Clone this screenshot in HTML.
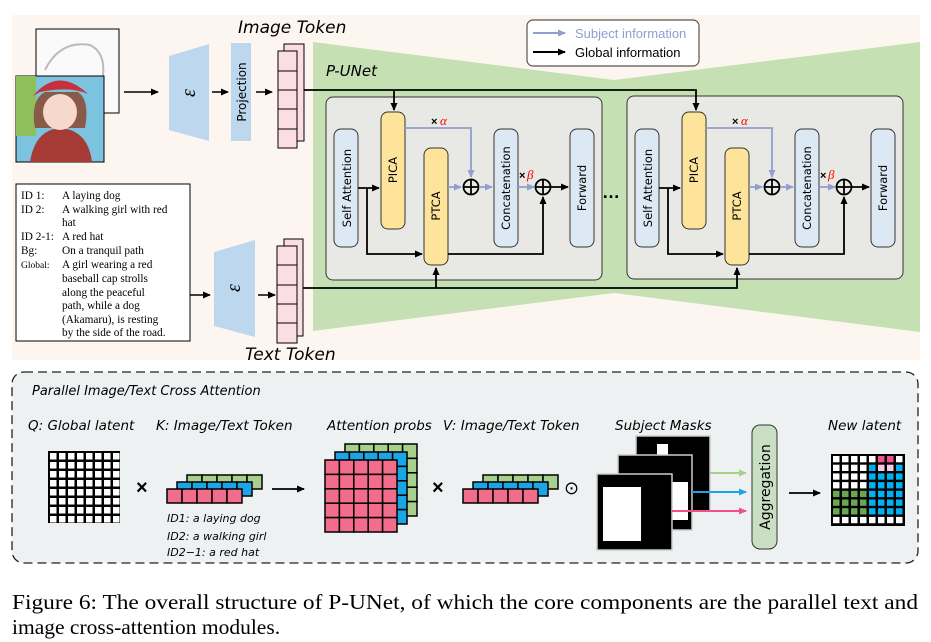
<!DOCTYPE html>
<html><head><meta charset="utf-8"><style>
html,body{margin:0;padding:0;background:#fff;}
svg{display:block;}
.s{font-family:"Liberation Sans","DejaVu Sans",sans-serif;}
.c{font-family:"DejaVu Sans","Liberation Sans",sans-serif;}
.r{font-family:"Liberation Serif",serif;}
</style></head><body>
<svg width="931" height="642" viewBox="0 0 931 642" xmlns="http://www.w3.org/2000/svg">
<defs>
<marker id="ak" markerWidth="8" markerHeight="8" refX="7" refY="4" orient="auto" markerUnits="userSpaceOnUse"><path d="M0,0.5 L8,4 L0,7.5 Z" fill="#000"/></marker>
<marker id="ab" markerWidth="8" markerHeight="8" refX="7" refY="4" orient="auto" markerUnits="userSpaceOnUse"><path d="M0,0.5 L8,4 L0,7.5 Z" fill="#8f9fcf"/></marker>
<marker id="ag" markerWidth="8" markerHeight="8" refX="7" refY="4" orient="auto" markerUnits="userSpaceOnUse"><path d="M0,0.5 L8,4 L0,7.5 Z" fill="#a8d08d"/></marker>
<marker id="ac" markerWidth="8" markerHeight="8" refX="7" refY="4" orient="auto" markerUnits="userSpaceOnUse"><path d="M0,0.5 L8,4 L0,7.5 Z" fill="#1aa6e6"/></marker>
<marker id="ap" markerWidth="8" markerHeight="8" refX="7" refY="4" orient="auto" markerUnits="userSpaceOnUse"><path d="M0,0.5 L8,4 L0,7.5 Z" fill="#f24d8c"/></marker>
</defs>
<rect x="12" y="15" width="908" height="345" fill="#fdf6f0"/>
<polygon points="313,42 614,80 920,42 920,332 614,293 313,331" fill="#c5e0b3"/>
<rect x="527" y="20" width="172" height="46" rx="6" fill="#fff" stroke="#555" stroke-width="1.2"/>
<line x1="533" y1="33" x2="565" y2="33" stroke="#8f9fcf" stroke-width="2" marker-end="url(#ab)"/>
<text x="575" y="38" class="s" font-size="13" fill="#8f9fcf">Subject information</text>
<line x1="533" y1="52" x2="565" y2="52" stroke="#000" stroke-width="2" marker-end="url(#ak)"/>
<text x="575" y="57" class="s" font-size="13" fill="#000">Global information</text>
<!-- images -->
<rect x="36" y="29" width="83" height="84" fill="#fafafa" stroke="#000" stroke-width="1"/>
<path d="M45,70 Q60,40 90,45 Q110,55 100,90" stroke="#bbb" fill="none" stroke-width="2"/>
<rect x="16" y="76" width="88" height="86" fill="#7cc3e0" stroke="#000" stroke-width="1"/>
<rect x="16" y="76" width="20" height="60" fill="#8fbf5a"/>
<path d="M30,162 Q35,130 60,128 Q88,130 92,162 Z" fill="#a63a35"/>
<path d="M35,128 Q30,100 45,92 L78,92 Q90,100 85,128 Z" fill="#8a5a48"/>
<ellipse cx="60" cy="112" rx="17" ry="18" fill="#f6d9cb"/>
<path d="M33,96 Q58,66 88,94 Q70,86 40,92 Z" fill="#c6303b"/>
<!-- encoder 1 -->
<polygon points="169,56 209,44 209,141 169,130" fill="#bdd7ee"/>
<text x="189" y="99" class="r" font-size="20" font-style="italic" text-anchor="middle" transform="rotate(-90 189 93)">ε</text>
<rect x="231" y="43" width="20" height="98" fill="#bdd7ee"/>
<text x="246" y="92" class="c" font-size="12" text-anchor="middle" transform="rotate(-90 246 92)">Projection</text>
<line x1="124" y1="92" x2="158" y2="92" stroke="#000" stroke-width="1.5" marker-end="url(#ak)"/>
<line x1="212" y1="92" x2="228" y2="92" stroke="#000" stroke-width="1.5" marker-end="url(#ak)"/>
<line x1="256" y1="92" x2="272" y2="92" stroke="#000" stroke-width="1.5" marker-end="url(#ak)"/>
<g stroke="#000" stroke-width="1" fill="#fbdde4">
<rect x="284" y="44" width="20" height="97"/>
<rect x="278" y="51" width="19" height="97"/>
</g>
<g stroke="#000" stroke-width="1"><line x1="278" y1="71" x2="297" y2="71"/><line x1="278" y1="90" x2="297" y2="90"/><line x1="278" y1="109" x2="297" y2="109"/><line x1="278" y1="129" x2="297" y2="129"/></g>
<text x="238" y="33" class="c" font-size="17" font-style="italic">Image Token</text>
<text x="326" y="76" class="c" font-size="15" font-style="italic">P-UNet</text>
<rect x="16" y="184" width="174" height="157" fill="#fff" stroke="#000" stroke-width="1"/>
<g class="r" font-size="11.3" fill="#000">
<text x="21" y="199">ID 1:</text><text x="62" y="199">A laying dog</text>
<text x="21" y="213">ID 2:</text><text x="62" y="213">A walking girl with red</text>
<text x="62" y="226">hat</text>
<text x="21" y="240">ID 2-1:</text><text x="62" y="240">A red hat</text>
<text x="21" y="254">Bg:</text><text x="62" y="254">On a tranquil path</text>
<text x="21" y="268" font-size="9.5">Global:</text><text x="62" y="268">A girl wearing a red</text>
<text x="62" y="282">baseball cap strolls</text>
<text x="62" y="296">along the peaceful</text>
<text x="62" y="309">path, while a dog</text>
<text x="62" y="323">(Akamaru), is resting</text>
<text x="62" y="336">by the side of the road.</text>
</g>
<polygon points="214,252 255,240 255,337 214,326" fill="#bdd7ee"/>
<text x="234" y="294" class="r" font-size="20" font-style="italic" text-anchor="middle" transform="rotate(-90 234 288)">ε</text>
<line x1="190" y1="295" x2="210" y2="295" stroke="#000" stroke-width="1.5" marker-end="url(#ak)"/>
<line x1="258" y1="295" x2="275" y2="295" stroke="#000" stroke-width="1.5" marker-end="url(#ak)"/>
<g stroke="#000" stroke-width="1" fill="#fbdde4">
<rect x="284" y="239" width="19" height="97"/>
<rect x="277" y="246" width="20" height="97"/>
</g>
<g stroke="#000" stroke-width="1"><line x1="277" y1="265" x2="297" y2="265"/><line x1="277" y1="285" x2="297" y2="285"/><line x1="277" y1="304" x2="297" y2="304"/><line x1="277" y1="323" x2="297" y2="323"/></g>
<text x="245" y="360" class="c" font-size="17" font-style="italic">Text Token</text>
<rect x="326" y="97" width="276" height="183" rx="7" fill="#e8e8e4" stroke="#333" stroke-width="1"/>
<rect x="627" y="96" width="276" height="183" rx="7" fill="#e8e8e4" stroke="#333" stroke-width="1"/>
<polyline points="304,90 696,90 696,110" fill="none" stroke="#000" stroke-width="1.8" marker-end="url(#ak)"/>
<line x1="394" y1="90" x2="394" y2="110" stroke="#000" stroke-width="1.8" marker-end="url(#ak)"/>
<polyline points="303,288 737,288 737,268" fill="none" stroke="#000" stroke-width="1.8" marker-end="url(#ak)"/>
<line x1="436" y1="288" x2="436" y2="268" stroke="#000" stroke-width="1.8" marker-end="url(#ak)"/>
<g id="blk">
<rect x="334" y="129" width="24" height="118" rx="7" fill="#dde8f5" stroke="#333" stroke-width="1"/>
<text x="351" y="188" class="c" font-size="11.5" text-anchor="middle" transform="rotate(-90 351 188)">Self Attention</text>
<rect x="381" y="112" width="24" height="117" rx="7" fill="#fde49a" stroke="#333" stroke-width="1"/>
<text x="397" y="170" class="c" font-size="11.5" text-anchor="middle" transform="rotate(-90 397 170)">PICA</text>
<rect x="424" y="148" width="24" height="117" rx="7" fill="#fde49a" stroke="#333" stroke-width="1"/>
<text x="440" y="206" class="c" font-size="11.5" text-anchor="middle" transform="rotate(-90 440 206)">PTCA</text>
<rect x="494" y="129" width="24" height="118" rx="7" fill="#dde8f5" stroke="#333" stroke-width="1"/>
<text x="510" y="188" class="c" font-size="11.5" text-anchor="middle" transform="rotate(-90 510 188)">Concatenation</text>
<rect x="570" y="129" width="24" height="118" rx="7" fill="#dde8f5" stroke="#333" stroke-width="1"/>
<text x="586" y="188" class="c" font-size="11.5" text-anchor="middle" transform="rotate(-90 586 188)">Forward</text>
<line x1="358" y1="188" x2="379" y2="188" stroke="#000" stroke-width="1.8" marker-end="url(#ak)"/>
<polyline points="367,188 367,254 422,254" fill="none" stroke="#000" stroke-width="1.8" marker-end="url(#ak)"/>
<polyline points="405,128 471,128 471,177" fill="none" stroke="#8f9fcf" stroke-width="1.8" marker-end="url(#ab)"/>
<text x="431" y="125" class="s" font-size="11" font-weight="bold">×</text>
<text x="440" y="125" class="r" font-size="13" font-style="italic" fill="#f00">α</text>
<line x1="448" y1="187" x2="461" y2="187" stroke="#8f9fcf" stroke-width="1.8" marker-end="url(#ab)"/>
<circle cx="471" cy="187" r="7.5" fill="none" stroke="#000" stroke-width="1.8"/>
<line x1="463.5" y1="187" x2="478.5" y2="187" stroke="#000" stroke-width="1.8"/><line x1="471" y1="179.5" x2="471" y2="194.5" stroke="#000" stroke-width="1.8"/>
<line x1="479" y1="187" x2="492" y2="187" stroke="#8f9fcf" stroke-width="1.8" marker-end="url(#ab)"/>
<line x1="518" y1="187" x2="534" y2="187" stroke="#8f9fcf" stroke-width="1.8" marker-end="url(#ab)"/>
<text x="519" y="179" class="s" font-size="11" font-weight="bold">×</text>
<text x="527" y="179" class="r" font-size="13" font-style="italic" fill="#f00">β</text>
<circle cx="543" cy="187" r="7.5" fill="none" stroke="#000" stroke-width="1.8"/>
<line x1="535.5" y1="187" x2="550.5" y2="187" stroke="#000" stroke-width="1.8"/><line x1="543" y1="179.5" x2="543" y2="194.5" stroke="#000" stroke-width="1.8"/>
<line x1="551" y1="187" x2="568" y2="187" stroke="#000" stroke-width="1.8" marker-end="url(#ak)"/>
<polyline points="448,254 543,254 543,197" fill="none" stroke="#000" stroke-width="1.8" marker-end="url(#ak)"/>
</g>
<use href="#blk" x="301" y="0"/>
<text x="602" y="198" class="s" font-size="18" font-weight="bold">…</text>
<rect x="12" y="372" width="906" height="191" rx="12" fill="#eef1f2" stroke="#222" stroke-width="1.3" stroke-dasharray="9,5"/>
<text x="32" y="395" class="c" font-size="13" font-style="italic">Parallel Image/Text Cross Attention</text>
<g class="c" font-size="13.5" font-style="italic">
<text x="28" y="430">Q: Global latent</text>
<text x="156" y="430">K: Image/Text Token</text>
<text x="327" y="430">Attention probs</text>
<text x="443" y="430">V: Image/Text Token</text>
<text x="615" y="430">Subject Masks</text>
<text x="828" y="430">New latent</text>
</g>
<rect x="48" y="451" width="72" height="72" fill="#000"/>
<text x="136" y="494" class="s" font-size="20" font-weight="bold">×</text>
<text x="432" y="494" class="s" font-size="20" font-weight="bold">×</text>
<text x="564" y="494" class="s" font-size="18">⊙</text>
<line x1="272" y1="489" x2="304" y2="489" stroke="#000" stroke-width="1.8" marker-end="url(#ak)"/>
<line x1="789" y1="493" x2="820" y2="493" stroke="#000" stroke-width="1.8" marker-end="url(#ak)"/>
<g class="c" font-size="11" font-style="italic">
<text x="167" y="522">ID1: a laying dog</text>
<text x="167" y="540">ID2: a walking girl</text>
<text x="167" y="556">ID2−1: a red hat</text>
</g>
<rect x="636" y="436" width="74" height="75" fill="#000" stroke="#ccc" stroke-width="1.5"/>
<rect x="657" y="444" width="11" height="12" fill="#fff"/>
<rect x="618" y="455" width="74" height="75" fill="#000" stroke="#ccc" stroke-width="1.5"/>
<rect x="672" y="482" width="16" height="38" fill="#fff"/>
<rect x="597" y="474" width="75" height="76" fill="#000" stroke="#ccc" stroke-width="1.5"/>
<rect x="603" y="487" width="38" height="54" fill="#fff"/>
<line x1="710" y1="473" x2="746" y2="473" stroke="#a8d08d" stroke-width="2" marker-end="url(#ag)"/>
<line x1="692" y1="492" x2="746" y2="492" stroke="#1aa6e6" stroke-width="2" marker-end="url(#ac)"/>
<line x1="672" y1="511" x2="746" y2="511" stroke="#f24d8c" stroke-width="2" marker-end="url(#ap)"/>
<rect x="752" y="425" width="25" height="124" rx="8" fill="#c9dfc3" stroke="#333" stroke-width="1"/>
<text x="770" y="487" class="c" font-size="14" text-anchor="middle" transform="rotate(-90 770 487)">Aggregation</text>
<g id="dyn"></g>
<text x="12" y="609" class="r" font-size="21.5" textLength="906" lengthAdjust="spacingAndGlyphs">Figure 6: The overall structure of P-UNet, of which the core components are the parallel text and</text>
<text x="12" y="634" class="r" font-size="21.5">image cross-attention modules.</text>
<script>
var NS="http://www.w3.org/2000/svg",d=document.getElementById("dyn");
function R(x,y,w,h,f,s){var r=document.createElementNS(NS,"rect");r.setAttribute("x",x);r.setAttribute("y",y);r.setAttribute("width",w);r.setAttribute("height",h);r.setAttribute("fill",f);if(s){r.setAttribute("stroke","#000");r.setAttribute("stroke-width",s);}d.appendChild(r);}
for(var i=0;i<8;i++)for(var j=0;j<8;j++)R(50+j*9,453+i*9,6.5,6.5,"#fff");
function tok(x,y){var cs=["#a8d08d","#1aa6e6","#f26d8c"];for(var k=0;k<3;k++){var ox=x+(2-k)*10,oy=y-(2-k)*7;for(var c=0;c<5;c++)R(ox+c*15,oy,15,14,cs[k],1.5);}}
tok(167,489);tok(463,489);
var cs=["#a8d08d","#1aa6e6","#f26d8c"];
for(var k=0;k<3;k++){var ox=325+(2-k)*10,oy=460-(2-k)*8;for(var a=0;a<5;a++)for(var b=0;b<5;b++)R(ox+b*14.4,oy+a*14.4,14.4,14.4,cs[k],1.5);}
R(831,454,74,72,"#000");
var G="#6aa84f",B="#00b0f0",P="#f2518c",L="#f9cbe0",W="#fff";
var m=[[W,W,W,W,W,P,P,W],[W,W,W,W,B,L,L,B],[W,W,W,W,B,B,B,B],[W,W,W,W,B,B,B,B],[G,G,G,G,B,B,B,B],[G,G,G,G,B,B,B,B],[G,G,G,G,B,B,B,B],[W,W,W,W,W,W,W,W]];
for(var i=0;i<8;i++)for(var j=0;j<8;j++)R(833+j*9,456+i*8.7,6.5,6.3,m[i][j]);
</script>
</svg>
</body></html>
